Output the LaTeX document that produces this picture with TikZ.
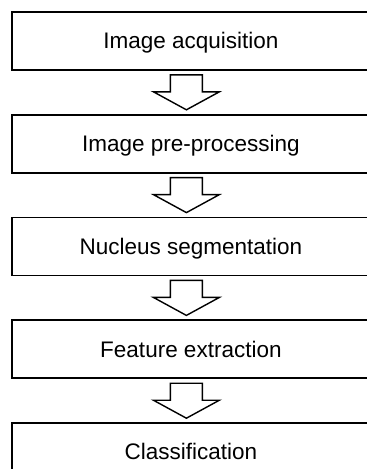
\documentclass[tikz,border=0pt]{standalone}
\usepackage{fontspec}
\setmainfont{Liberation Sans}
\usetikzlibrary{positioning, calc}

\newcommand{\bajada}[2]{%
  \coordinate (s) at ($(#1.south)+(-4.5,-4)$);
  \coordinate (t) at ($(#2.north)+(-4.5,4)$);
  \draw[flecha] ($(s)+(-16,0)$) -- ($(s)+(16,0)$) -- ($(t)+(16,18)$) -- ($(t)+(33,18)$)
    -- (t) -- ($(t)+(-33,18)$) -- ($(t)+(-16,18)$) -- cycle;
}

\begin{document}
\begin{tikzpicture}[
                x=1pt, y=1pt,
                node distance=43pt,
                paso/.style={
                    rectangle,
                    draw=black,
                    line width=1.8pt,
                    minimum width=358pt,
                    minimum height=58pt,
                    inner sep=0pt,
                    text height=15.5pt,
                    text depth=0pt,
                    font=\fontsize{22.5}{27}\selectfont
                },
                flecha/.style={
                    draw=black,
                    line width=1.4pt,
                    line join=miter,
                    fill=white
                }
            ]
                \useasboundingbox (0,0) rectangle (367,-469);
                \node[paso, anchor=north west] (adq) at (11,-11) {Image acquisition};
                \node[paso, below=of adq] (pre) {Image pre-processing};
                \node[paso, below=of pre] (seg) {Nucleus segmentation};
                \node[paso, below=of seg] (car) {Feature extraction};
                \node[paso, below=of car] (cla) {Classification};
                \bajada{adq}{pre}
                \bajada{pre}{seg}
                \bajada{seg}{car}
                \bajada{car}{cla}
            \end{tikzpicture}
\end{document}
